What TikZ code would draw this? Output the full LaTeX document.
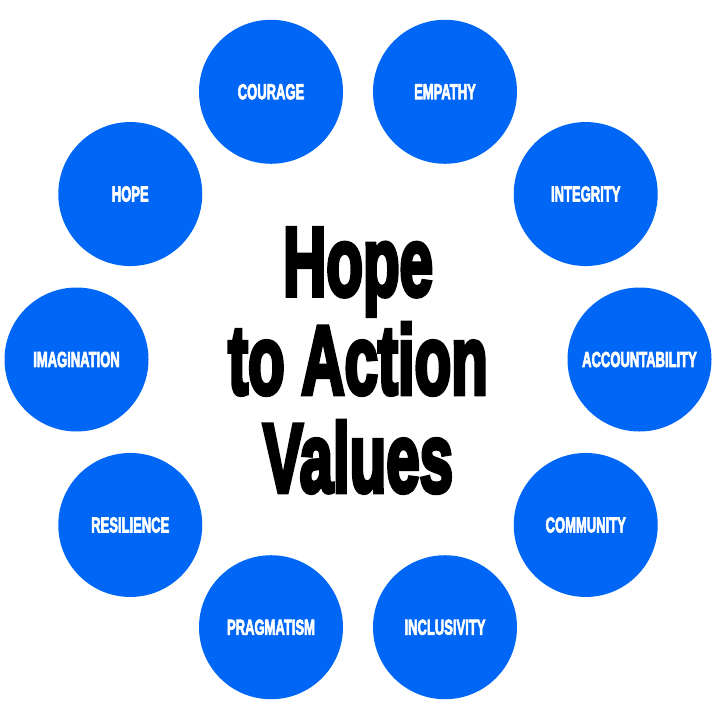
\documentclass[tikz,border=0pt]{standalone}
\usepackage{fontspec}
\setmainfont{Liberation Sans}
\newfontfamily\heavytitle[BoldFeatures={FakeBold=5}]{Liberation Sans}
\newfontfamily\heavylbl[BoldFeatures={FakeBold=4}]{Liberation Sans}
\definecolor{valblue}{RGB}{0,102,245}
\newcommand\vlbl[1]{\scalebox{0.605}[1]{\heavylbl\fontsize{21.5}{24}\selectfont\bfseries #1}}
\newcommand\vtitle[1]{\scalebox{0.615}[1]{\heavytitle\fontsize{97.5}{100}\selectfont\bfseries #1}}
\begin{document}
\begin{tikzpicture}[x=1pt,y=-1pt,
  valcirc/.style={circle,fill=valblue,draw=none,minimum size=144pt,inner sep=0pt,text=white},
  titleline/.style={anchor=base,inner sep=0pt,text=black}]
\useasboundingbox (0,0) rectangle (715,715);
\fill[white] (0,0) rectangle (715,715);
\foreach \a/\t [count=\i] in {0/ACCOUNTABILITY,36/INTEGRITY,72/EMPATHY,108/COURAGE,144/HOPE,180/IMAGINATION,216/RESILIENCE,252/PRAGMATISM,288/INCLUSIVITY,324/COMMUNITY}{
  \node[valcirc] (c\i) at ({358+281.5*cos(\a)},{359.5-281.5*sin(\a)}) {\vlbl{\t}};
}
\node[titleline] (t1) at (358,295.5) {\vtitle{Hope}};
\node[titleline] (t2) at (358,393.8) {\vtitle{to Action}};
\node[titleline] (t3) at (358,491.8) {\vtitle{Values}};
\end{tikzpicture}
\end{document}
